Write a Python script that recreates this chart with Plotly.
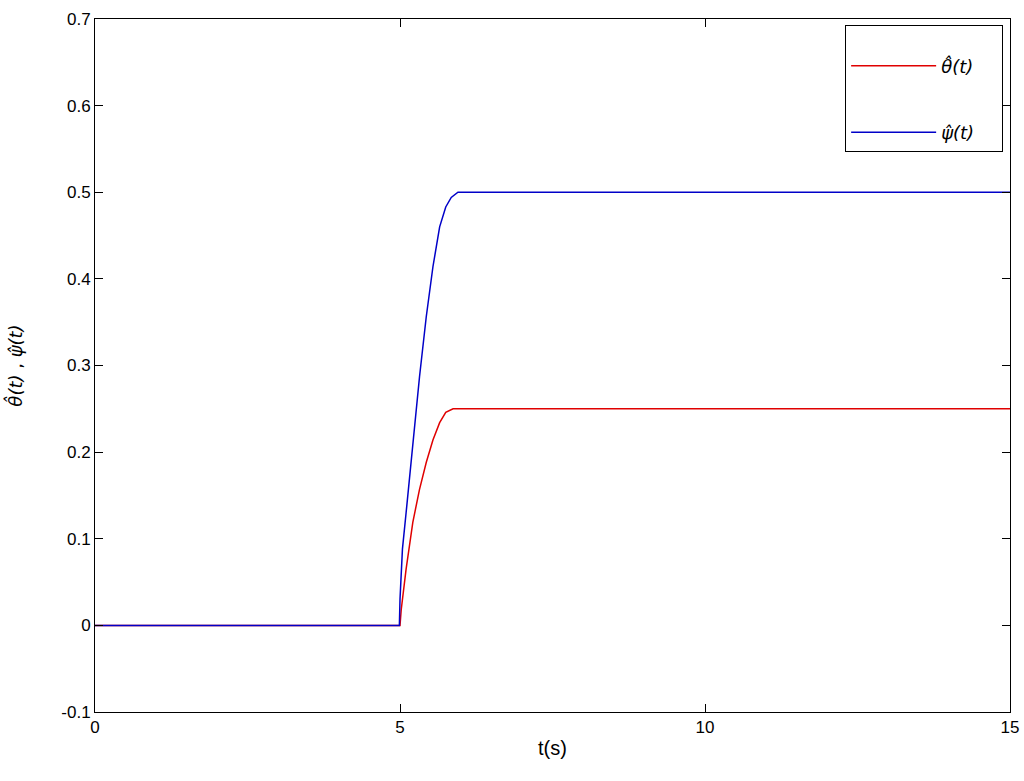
import plotly.graph_objects as go

# time samples (s) and estimated signals
t_theta = [0, 5.0, 5.02, 5.10, 5.21, 5.32, 5.43, 5.54, 5.65, 5.75, 5.87, 5.95, 15]
theta_hat = [0, 0, 0.018, 0.065, 0.119, 0.157, 0.188, 0.214, 0.234, 0.246, 0.250, 0.250, 0.250]

t_psi = [0, 4.99, 5.0, 5.04, 5.10, 5.21, 5.32, 5.43, 5.54, 5.65, 5.75, 5.84, 5.95, 15]
psi_hat = [0, 0, 0.03, 0.088, 0.130, 0.211, 0.287, 0.356, 0.414, 0.460, 0.483, 0.494, 0.500, 0.500]

x_ticks = [0, 5, 10, 15]
y_ticks = [-0.1, 0, 0.1, 0.2, 0.3, 0.4, 0.5, 0.6, 0.7]
y_tick_labels = ["-0.1", "0", "0.1", "0.2", "0.3", "0.4", "0.5", "0.6", "0.7"]

fig = go.Figure()
fig.add_trace(go.Scatter(x=t_theta, y=theta_hat, mode="lines",
                         line=dict(color="#e00000", width=1.5),
                         name="<i>θ̂(t)</i>&nbsp;&nbsp;&nbsp;&nbsp;", legendgroup="a"))
fig.add_trace(go.Scatter(x=t_psi, y=psi_hat, mode="lines",
                         line=dict(color="#0000c8", width=1.5),
                         name="<i>ψ̂(t)</i>&nbsp;&nbsp;&nbsp;&nbsp;", legendgroup="b"))

axis_common = dict(showgrid=False, zeroline=False, showline=True, linecolor="black",
                   linewidth=1, mirror="ticks", ticks="inside", ticklen=8,
                   tickcolor="black", automargin=False,
                   tickfont=dict(family="Liberation Sans, Arial", size=17, color="black"))

fig.update_layout(
    template="none",
    width=1024, height=781,
    margin=dict(l=95, r=14, t=19, b=69),
    paper_bgcolor="white", plot_bgcolor="white",
    font=dict(family="Liberation Sans, Arial", size=17, color="black"),
    xaxis=dict(range=[0, 15], tickvals=x_ticks, title=dict(text="t(s)", standoff=4), **axis_common),
    yaxis=dict(range=[-0.1, 0.7], tickvals=y_ticks, ticktext=y_tick_labels,
               title=dict(text="<i>θ̂(t)</i> , <i>ψ̂(t)</i>",
                          font=dict(family="DejaVu Sans", size=18), standoff=34),
               **axis_common),
    legend=dict(x=0.9925, y=0.992, xanchor="right", yanchor="top",
                bordercolor="black", borderwidth=1, bgcolor="white",
                title=dict(text="&nbsp;", font=dict(size=17)),
                font=dict(family="DejaVu Sans", size=18), tracegroupgap=40,
                traceorder="grouped", itemwidth=85),
    showlegend=True,
)

fig.write_html("out.html", config={"displayModeBar": False},
               post_script="document.body.style.margin='0';")
